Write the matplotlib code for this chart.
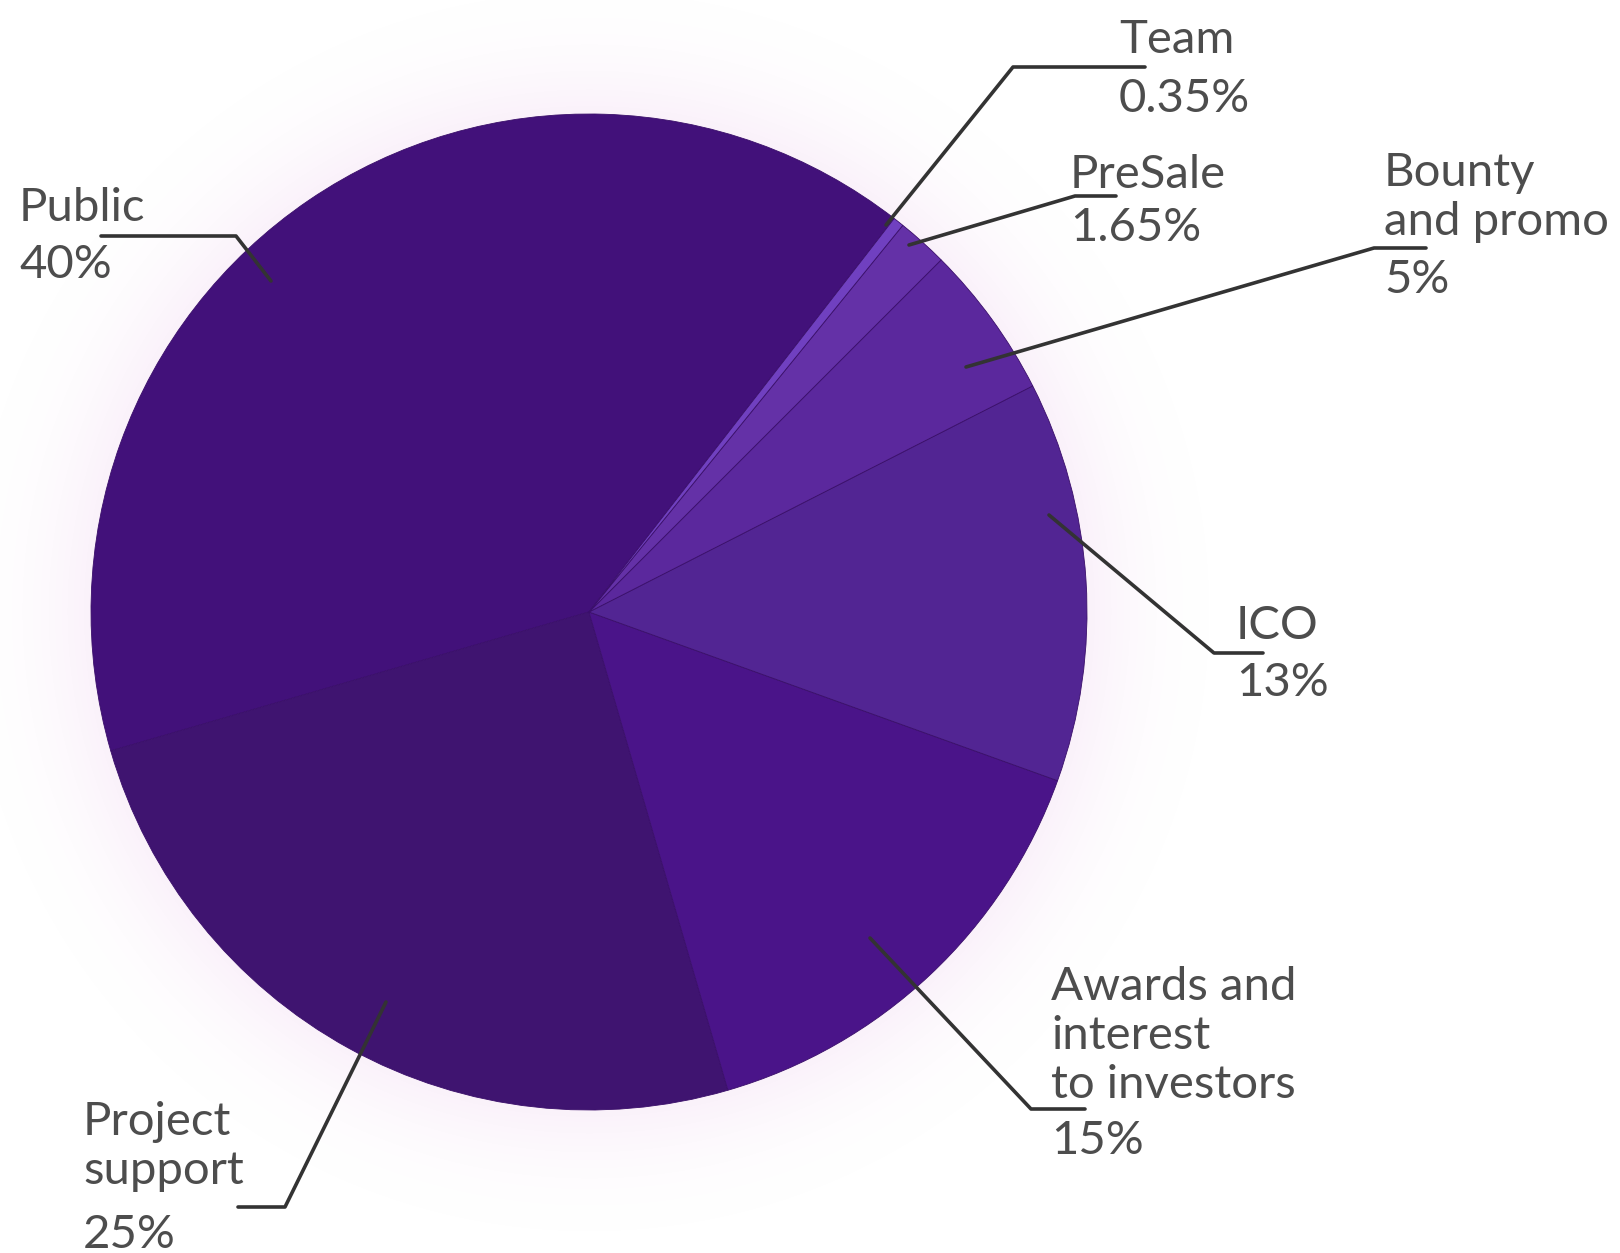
import numpy as np
import matplotlib.pyplot as plt

W, H = 1620, 1253

labels = ["Public", "Project\nsupport", "Awards and\ninterest\nto investors", "ICO",
          "Bounty\nand promo", "PreSale", "Team"]
pcts = ["40%", "25%", "15%", "13%", "5%", "1.65%", "0.35%"]
values = [40, 25, 15, 13, 5, 1.65, 0.35]
colors = ["#42117a", "#3f1470", "#4a1489", "#522593", "#5b289d", "#6431a7", "#7040c0"]

# label layout in pixels (from top-left): text x, y of first line,
# leader line points (pie end, elbow, tail)
label_pos = [
    (19, 208, [(271, 281), (236, 236), (101, 236)]),
    (83, 1122, [(386, 1002), (285, 1207), (238, 1207)]),
    (1051, 987, [(870, 938), (1031, 1109), (1085, 1109)]),
    (1236, 626, [(1049, 515), (1214, 653), (1263, 653)]),
    (1384, 173, [(966, 367), (1374, 248), (1426, 248)]),
    (1070, 175, [(909, 245), (1075, 196), (1116, 196)]),
    (1119, 40, [(886, 225), (1013, 67), (1145, 67)]),
]
pct_y = [265, 1235, 1141, 683, 280, 228, 99]
line_gap = 49

cx, cy, R = 589, H - 612, 498

fig = plt.figure(figsize=(W / 100, H / 100), dpi=100)
ax = fig.add_axes([0, 0, 1, 1])

# soft pink glow around the pie
yy, xx = np.mgrid[0:H, 0:W]
d = np.hypot(xx - cx, yy - cy) - R
glow = np.clip(1 - d / 140, 0, 1) ** 2.2 * 0.35
img = np.zeros((H, W, 4))
img[..., 0] = 0.95
img[..., 1] = 0.85
img[..., 2] = 0.95
img[..., 3] = glow
ax.imshow(img, extent=(0, W, 0, H), origin="lower", zorder=0)

ax.pie(values, colors=colors, startangle=52.2, center=(cx, cy), radius=R,
       wedgeprops=dict(edgecolor="#3a0f6a", linewidth=0.6), frame=True)
ax.set_xlim(0, W)
ax.set_ylim(0, H)
ax.set_aspect("equal")
ax.axis("off")

font = dict(family=["Lato", "DejaVu Sans"], fontweight="normal", color="#4d4d4d",
            fontsize=34)

for (tx, ty, pts), lab, pct, py in zip(label_pos, labels, pcts, pct_y):
    xs = [p[0] for p in pts]
    ys = [H - p[1] for p in pts]
    ax.plot(xs, ys, color="#333333", lw=2.6, solid_capstyle="round", zorder=5)
    for i, line in enumerate(lab.split("\n")):
        ax.text(tx, H - (ty + i * line_gap), line, ha="left", va="center", **font)
    ax.text(tx, H - py, pct, ha="left", va="center", **font)

fig.savefig("out.png", dpi=100, facecolor="white")
